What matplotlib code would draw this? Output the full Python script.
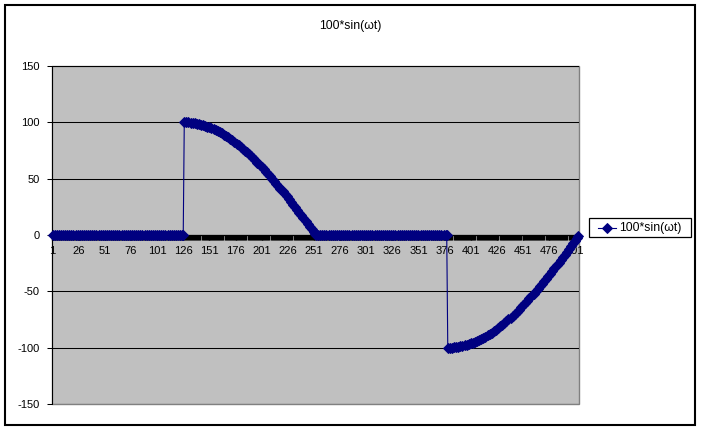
import matplotlib
matplotlib.use("Agg")
import matplotlib.pyplot as plt
from matplotlib.patches import Rectangle
from matplotlib.lines import Line2D

plt.rcParams['font.family'] = ['Liberation Sans', 'DejaVu Sans']

title = "100*sin(\u03c9t)"

# categories 1..504, labelled every 25
tick_labels = [1, 26, 51, 76, 101, 126, 151, 176, 201, 226, 251, 276,
               301, 326, 351, 376, 401, 426, 451, 476, 501]
y_ticks = [-150, -100, -50, 0, 50, 100, 150]

# flat part before firing (categories 1..126)
off1_x = list(range(1, 127, 2)) + [126]
off1_y = [0] * len(off1_x)

# positive half after firing (categories 127..252)
pos_x = list(range(127, 252, 2)) + [252]
pos_y = [100.0, 99.97, 99.88, 99.72, 99.50, 99.22, 98.88, 98.48, 98.02, 97.49,
         96.91, 96.26, 95.56, 94.79, 93.97, 93.09, 92.15, 91.15, 90.10, 88.99,
         87.82, 86.60, 85.33, 84.00, 82.62, 81.19, 79.71, 78.18, 76.60, 74.98,
         73.32, 71.61, 69.85, 68.06, 66.17, 64.28, 62.35, 60.38, 58.37, 56.34,
         54.23, 52.14, 50.00, 47.82, 45.62, 43.39, 41.13, 38.84, 36.53, 34.20,
         31.85, 29.48, 27.07, 24.68, 22.25, 19.82, 17.36, 14.90, 12.43, 9.95,
         7.48, 4.99, 2.49, 1.25]

# flat part (categories 253..378)
off2_x = list(range(253, 379, 2)) + [378]
off2_y = [0] * len(off2_x)

# negative half after firing (categories 379..504)
neg_x = list(range(379, 504, 2)) + [504]
neg_y = [-100.0, -99.97, -99.88, -99.72, -99.50, -99.22, -98.88, -98.48, -98.02, -97.49,
         -96.91, -96.26, -95.56, -94.79, -93.97, -93.09, -92.15, -91.15, -90.10, -88.99,
         -87.82, -86.60, -85.33, -84.00, -82.62, -81.19, -79.71, -78.18, -76.60, -74.98,
         -73.32, -71.61, -69.85, -68.06, -66.17, -64.28, -62.35, -60.38, -58.37, -56.34,
         -54.23, -52.14, -50.00, -47.82, -45.62, -43.39, -41.13, -38.84, -36.53, -34.20,
         -31.85, -29.48, -27.07, -24.68, -22.25, -19.82, -17.36, -14.90, -12.43, -9.95,
         -7.48, -4.99, -2.49, -1.25]

x = off1_x + pos_x + off2_x + neg_x
y = off1_y + pos_y + off2_y + neg_y

navy = "#000080"
W, H = 701, 430


def fx(px):
    return px / W


def fy(py):
    return 1 - py / H


fig = plt.figure(figsize=(W / 100, H / 100), dpi=100)
fig.patch.set_facecolor("white")

# chart border
fig.add_artist(Rectangle((fx(5), fy(425)), fx(690), 420 / H, transform=fig.transFigure,
                         fill=False, edgecolor="black", linewidth=1.5))

fig.text(fx(350.5), fy(26), title, ha="center", va="center", fontsize=8.8)

ax = fig.add_axes([fx(52), fy(404), fx(579 - 52), (404 - 66) / H])
ax.patch.set_facecolor("#c0c0c0")
ax.patch.set_edgecolor("#808080")
ax.patch.set_linewidth(1.0)

ax.plot(x, y, color=navy, linewidth=0.8, marker="D", markersize=4.6,
        markeredgewidth=0.7, markerfacecolor=navy, markeredgecolor=navy,
        clip_on=False, zorder=3)

ax.set_xlim(0.5, 504.5)
ax.set_ylim(-150, 150)

ax.set_yticks(y_ticks)
ax.set_yticklabels([str(v) for v in y_ticks])
ax.set_xticks(tick_labels)
ax.set_xticklabels([str(v) for v in tick_labels])
ax.set_xticks([i + 0.5 for i in range(0, 505)], minor=True)

ax.yaxis.grid(True, color="black", linewidth=0.75)
ax.xaxis.grid(False)

for s in ["top", "right"]:
    ax.spines[s].set_visible(False)
ax.spines["left"].set_color("black")
ax.spines["left"].set_linewidth(0.75)
ax.spines["bottom"].set_position(("data", 0))
ax.spines["bottom"].set_color("black")
ax.spines["bottom"].set_linewidth(0.9)

ax.tick_params(axis="y", direction="out", length=3.3, width=0.75, pad=5.5,
               labelsize=8, colors="black")
ax.tick_params(axis="x", which="major", direction="out", length=3.6, width=1.0,
               pad=4.5, labelsize=8)
ax.tick_params(axis="x", which="minor", direction="out", length=3.6, width=1.0)

# legend
fig.add_artist(Rectangle((fx(589), fy(237)), fx(102), 19 / H, transform=fig.transFigure,
                         facecolor="white", edgecolor="black", linewidth=0.9))
fig.add_artist(Line2D([fx(598), fx(616)], [fy(227.5), fy(227.5)], transform=fig.transFigure,
                      color=navy, linewidth=0.8, marker=None))
fig.add_artist(Line2D([fx(607)], [fy(227.5)], transform=fig.transFigure,
                      color=navy, marker="D", markersize=4.6, markeredgewidth=0.7))
fig.text(fx(619), fy(227.5), title, ha="left", va="center", fontsize=8.8)

fig.savefig("out.png", dpi=100)
